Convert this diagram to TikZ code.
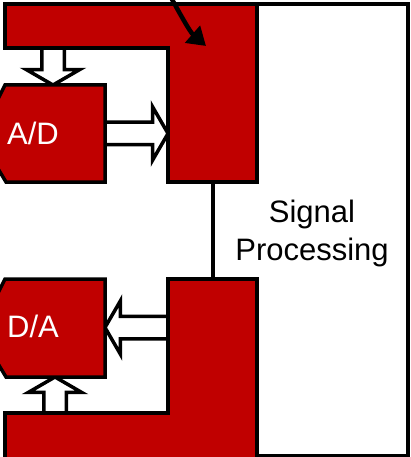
\documentclass[tikz,border=0pt]{standalone}
\usepackage{fontspec}
\setmainfont{Liberation Sans}
\usetikzlibrary{arrows.meta, positioning, shapes.arrows}
\definecolor{blockred}{HTML}{C00000}

\begin{document}
\begin{tikzpicture}[
    x=1pt, y=-1pt,
    line join=miter,
    bus/.style={draw=black, fill=blockred, line width=3.5pt},
    converter/.style={draw=black, fill=blockred, line width=3.5pt},
    hollow/.style={single arrow, draw=black, fill=white, line width=3.5pt,
        single arrow head extend=15.5pt, single arrow tip angle=120,
        inner xsep=0pt, inner ysep=9.5pt, minimum width=0pt, outer sep=0pt, anchor=tip},
    blocktext/.style={font=\fontsize{31}{38}\selectfont, align=center, inner sep=0pt},
    signal/.style={-{Triangle[length=18pt, width=22pt]}, line width=4.5pt}
]
\useasboundingbox (0,0) rectangle (410,457);
\clip (0,0) rectangle (410,457);

% Signal processing block on the right (open on its left side)
\node[minimum width=151pt, minimum height=452pt, inner sep=0pt, outer sep=0pt] (dsp) at (332.5,230) {};
\draw[line width=3.5pt] (dsp.north west) -- (dsp.north east) -- (dsp.south east) -- (dsp.south west);

% Link between upper and lower bus
\coordinate (uplink) at (213,182);
\coordinate (downlink) at (213,279);
\draw[line width=3.5pt] (uplink) -- (downlink);

% Hollow block arrows
\node[hollow, rotate=-90, minimum height=37pt] (adtop) at (53,85) {};
\node[hollow, minimum height=63pt] (adright) at (168,133.5) {};
\node[hollow, rotate=180, minimum height=63pt] (daright) at (105,327.5) {};
\node[hollow, rotate=90, minimum height=36pt] (dabottom) at (55,377) {};

% Upper and lower bus
\path[bus] (5,4) -- (257,4) -- (257,182) -- (168,182) -- (168,48) -- (5,48) -- cycle;
\path[bus] (5,413) -- (168,413) -- (168,279) -- (257,279) -- (257,470) -- (5,470) -- cycle;

% Converters
\path[converter] (5,85) -- (105,85) -- (105,182) -- (6,182) -- (-3,167) -- (-3,101) -- cycle;
\path[converter] (5,279) -- (105,279) -- (105,377) -- (6,377) -- (-3,362) -- (-3,295) -- cycle;
\node[blocktext, text=white] (ad) at (33,133) {A/D};
\node[blocktext, text=white] (da) at (33,326.5) {D/A};

% Incoming signal
\coordinate (sig) at (168,-8);
\coordinate (inject) at (206,46);
\draw[signal] (sig) .. controls (180,14) and (190,32) .. (inject);

\node[blocktext] (dsptext) at (312,233) {Signal\\Processing};

\end{tikzpicture}
\end{document}
